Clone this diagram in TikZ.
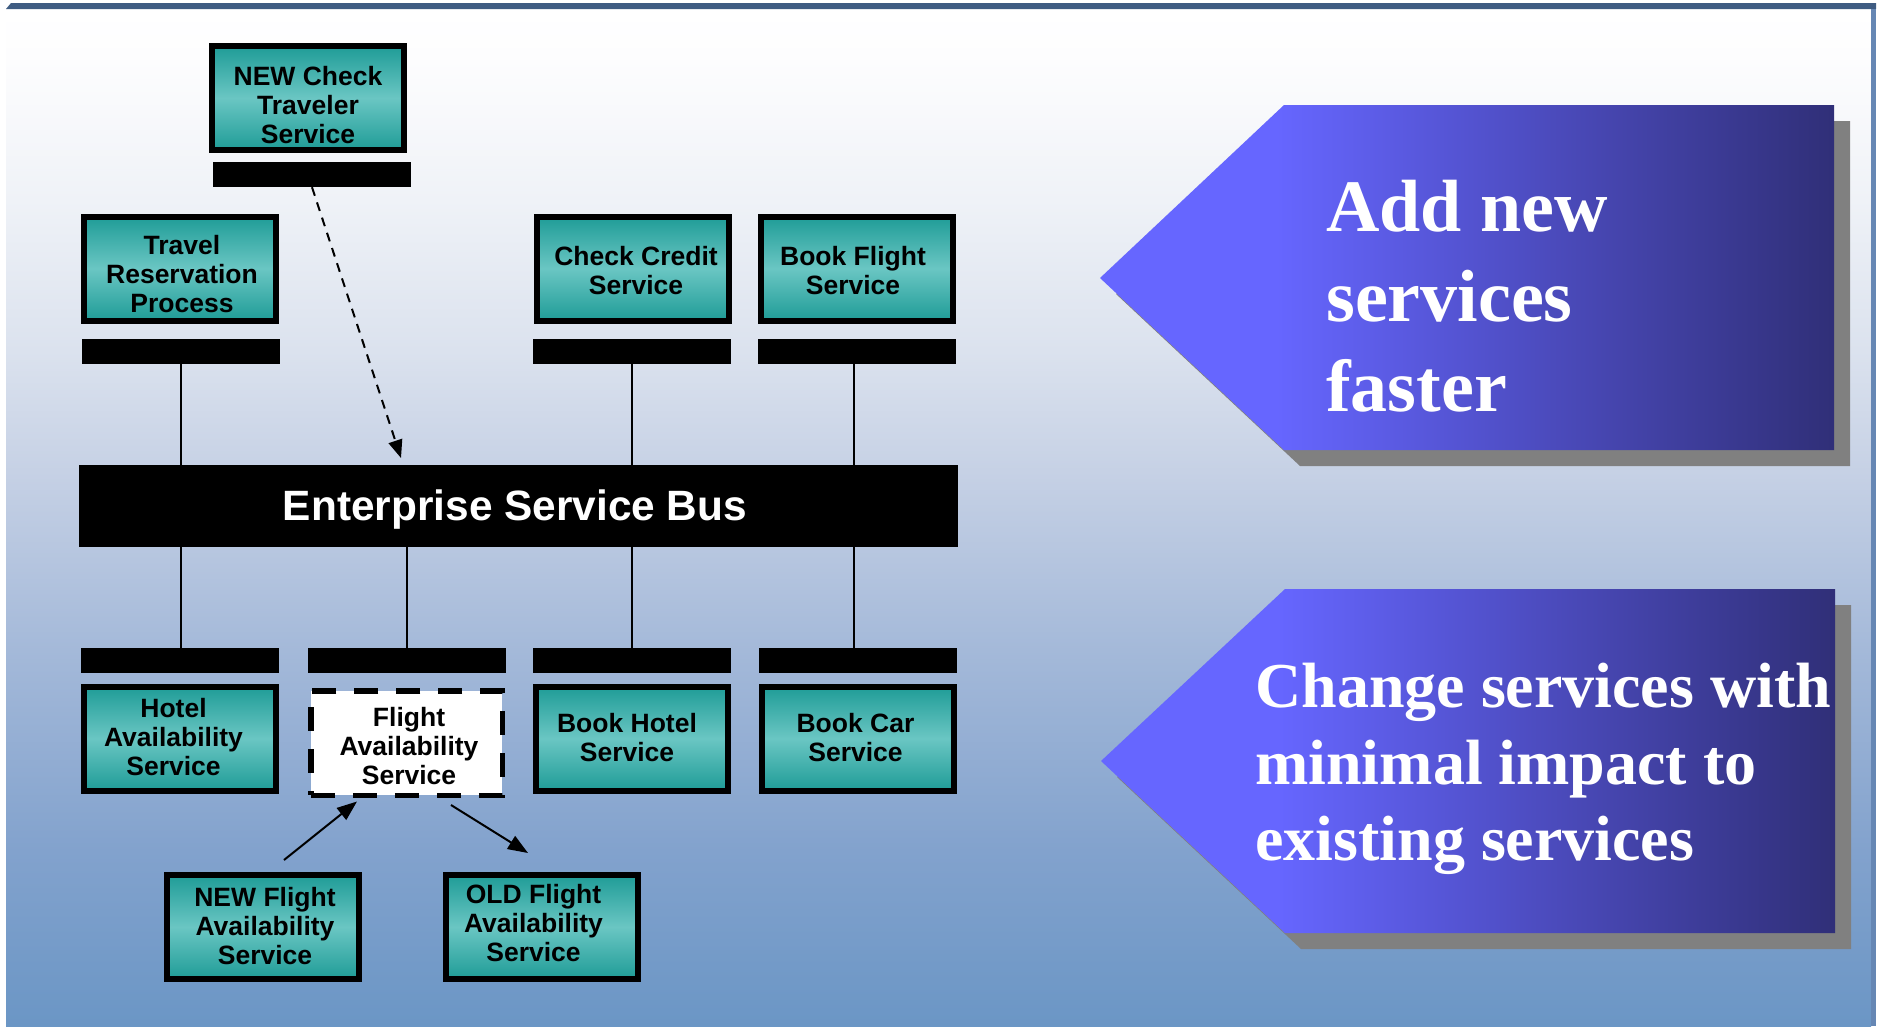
\documentclass[tikz,border=0pt]{standalone}
\usepackage{fontspec}
\setmainfont{Liberation Sans}
\newfontfamily\panelserif{Liberation Serif}
\usetikzlibrary{arrows.meta,calc}

\definecolor{tealedge}{HTML}{1F9C97}
\definecolor{tealmid}{HTML}{6AC6C3}
\definecolor{framedark}{HTML}{3F5C82}
\definecolor{frameblue}{HTML}{6687B4}
\definecolor{panellight}{HTML}{6666FF}
\definecolor{paneldark}{HTML}{302F78}
\definecolor{panelshadow}{HTML}{808080}
\definecolor{bgA}{HTML}{6B96C5}
\definecolor{bgB}{HTML}{82A2CD}
\definecolor{bgC}{HTML}{A4B9D9}
\definecolor{bgD}{HTML}{C6D1E5}
\definecolor{bgE}{HTML}{DBE2EE}
\definecolor{bgF}{HTML}{EFF2F7}
\definecolor{bgG}{HTML}{FDFDFE}

% slide background: steel blue at the bottom fading to white at the top
\pgfdeclareverticalshading{slidebg}{100bp}{color(0bp)=(bgA); color(25bp)=(bgA);
  color(33.6bp)=(bgB); color(43.5bp)=(bgC); color(52.3bp)=(bgD);
  color(58.2bp)=(bgE); color(65.6bp)=(bgF); color(72.5bp)=(bgG);
  color(75bp)=(white); color(100bp)=(white)}
% callout panels: bright violet at the point, deep navy at the right
\pgfdeclarehorizontalshading{panelfade}{100bp}{color(0bp)=(panellight);
  color(37bp)=(panellight); color(75bp)=(paneldark); color(100bp)=(paneldark)}

\tikzset{
  svc/.style={draw=black, line width=6pt, top color=tealedge, bottom color=tealedge,
    middle color=tealmid, minimum width=192pt, minimum height=104pt, inner sep=0pt},
  oldsvc/.style={draw=black, fill=white, line width=5.5pt,
    dash pattern=on 24pt off 18pt, minimum width=191.5pt, minimum height=104.5pt,
    inner sep=0pt},
  caption/.style={inner sep=0pt, align=center,
    font=\bfseries\fontsize{26.5}{29}\selectfont},
  port/.style={fill=black, minimum width=198pt, minimum height=25pt, inner sep=0pt},
  bus/.style={fill=black, minimum width=879pt, minimum height=82pt, inner sep=0pt},
  buslabel/.style={text=white, inner sep=0pt,
    font=\bfseries\fontsize{42.4}{46}\selectfont},
  wire/.style={line width=2pt},
  flow/.style={line width=2pt, -{Triangle[length=20pt,width=15pt]}},
  plugin/.style={line width=2pt, dash pattern=on 9pt off 7pt,
    -{Triangle[length=18pt,width=14pt]}},
  panel/.style={shading=panelfade},
  paneltext/.style={anchor=north west, inner sep=0pt, text=white, align=left,
    font=\panelserif\bfseries}
}

\begin{document}
\begin{tikzpicture}[x=1pt,y=-1pt]
\useasboundingbox (0,0) rectangle (1879,1026);

% slide frame
\fill[white] (0,0) rectangle (1879,1026);
\shade[shading=slidebg] (6,9) rectangle (1871,1026);
\fill[framedark] (11,3) -- (1876,3) -- (1876,9) -- (6,9) -- cycle;
\fill[frameblue] (1871,9) rectangle (1876,1026);

% services above the bus
\node[svc] (nct) at (308,98) {};
\node[caption] (nct-t) at ($(nct)+(0,7)$) {NEW Check\\Traveler\\Service};
\node[port] (nctbar) at (312,174.5) {};
\node[svc] (trp) at (180,268.5) {};
\node[caption] (trp-t) at ($(trp)+(2,6)$) {Travel\\Reservation\\Process};
\node[port] (trpbar) at (181,351) {};
\node[svc] (ccs) at (632.5,268.5) {};
\node[caption] (ccs-t) at ($(ccs)+(3.5,2.5)$) {Check Credit\\Service};
\node[port] (ccsbar) at (632,351.5) {};
\node[svc] (bfs) at (856.5,268.5) {};
\node[caption] (bfs-t) at ($(bfs)+(-3.5,2.5)$) {Book Flight\\Service};
\node[port] (bfsbar) at (857,351.5) {};

% the bus
\node[bus] (esb) at (518.5,506) {};
\node[buslabel] (esb-t) at ($(esb)+(-3.5,3.5)$) {Enterprise Service Bus};

% services below the bus
\node[port] (hasbar) at (180,660.5) {};
\node[port] (fasbar) at (407,660.5) {};
\node[port] (bhsbar) at (632,660.5) {};
\node[port] (bcsbar) at (858,660.5) {};
\node[svc] (has) at (179.5,738.5) {};
\node[caption] (has-t) at ($(has)+(-6,-1)$) {Hotel\\Availability\\Service};
\node[oldsvc] (fas) at (406.5,743) {};
\node[caption] (fas-t) at ($(fas)+(2.5,3.5)$) {Flight\\Availability\\Service};
\node[svc] (bhs) at (632,738.5) {};
\node[caption] (bhs-t) at ($(bhs)+(-5,-1)$) {Book Hotel\\Service};
\node[svc] (bcs) at (858,738.5) {};
\node[caption] (bcs-t) at ($(bcs)+(-2.5,-1)$) {Book Car\\Service};
\node[svc] (nfa) at (262.5,927) {};
\node[caption] (nfa-t) at ($(nfa)+(2.5,-1)$) {NEW Flight\\Availability\\Service};
\node[svc] (ofa) at (542,927) {};
\node[caption] (ofa-t) at ($(ofa)+(-8.5,-3.5)$) {OLD Flight\\Availability\\Service};

% bus attachments
\draw[wire] (trpbar.south) -- (trpbar.south |- esb.north);
\draw[wire] (ccsbar.south) -- (ccsbar.south |- esb.north);
\draw[wire] ($(bfsbar.south)+(-3,0)$) -- ($(bfsbar.south |- esb.north)+(-3,0)$);
\draw[wire] ($(esb.south -| hasbar)+(1,0)$) -- ($(hasbar.north)+(1,0)$);
\draw[wire] (esb.south -| fasbar) -- (fasbar.north);
\draw[wire] (esb.south -| bhsbar) -- (bhsbar.north);
\draw[wire] ($(esb.south -| bcsbar)+(-4.5,0)$) -- ($(bcsbar.north)+(-4.5,0)$);

% plugging in the new traveler check
\coordinate (busdrop) at (401,458);
\draw[plugin] (nctbar.south) -- (busdrop);

% swapping the flight availability implementation
\draw[flow] ($(nfa.north)+(21.5,-12)$) -- ($(fas.south)+(-49.5,3.5)$);
\draw[flow] ($(fas.south)+(44.5,7)$) -- ($(ofa.north)+(-14,-19)$);

% callout panels with drop shadows
\fill[panelshadow] (1116,294) -- (1300,121) -- (1850,121) -- (1850,466) -- (1300,466) -- cycle;
\shade[panel] (1100,278) -- (1284,105) -- (1834,105) -- (1834,450) -- (1284,450) -- cycle;
\fill[panelshadow] (1117,777) -- (1301,605) -- (1851,605) -- (1851,949) -- (1301,949) -- cycle;
\shade[panel] (1101,761) -- (1285,589) -- (1835,589) -- (1835,933) -- (1285,933) -- cycle;

\node[paneltext, font=\panelserif\bfseries\fontsize{74}{90}\selectfont] (addtxt)
  at (1326,180) {Add new\\services\\faster};
\node[paneltext, font=\panelserif\bfseries\fontsize{64}{76.5}\selectfont] (chgtxt)
  at (1255,663) {Change services with\\minimal impact to\\existing services};
\end{tikzpicture}
\end{document}
